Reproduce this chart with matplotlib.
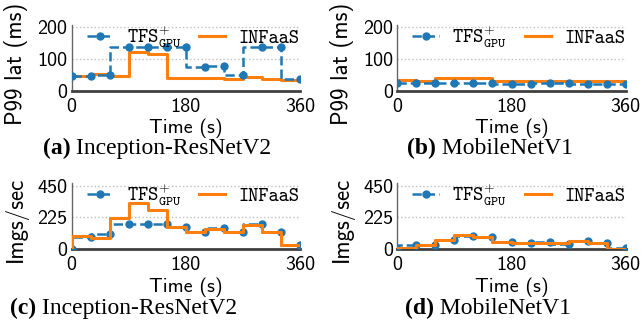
import matplotlib
matplotlib.use("Agg")
import matplotlib.pyplot as plt

plt.rcParams["mathtext.fontset"] = "cm"
plt.rcParams["axes.unicode_minus"] = False

# time points (s)
t = [0, 30, 60, 90, 120, 150, 180, 210, 240, 270, 300, 330, 360]

# P99 latency (ms)
lat_tfs_irv2 = [47, 47, 50, 138, 138, 138, 138, 74, 80, 50, 138, 138, 38]
lat_inf_irv2 = [48, 48, 54, 47, 123, 115, 41, 40, 40, 38, 44, 39, 36]
lat_tfs_mnv1 = [26, 25, 24, 26, 26, 25, 23, 23, 24, 24, 23, 23, 22]
lat_inf_mnv1 = [35, 35, 32, 40, 41, 42, 32, 31, 32, 30, 32, 30, 31]

# throughput (imgs/sec)
thr_tfs_irv2 = [0, 90, 108, 176, 176, 176, 155, 120, 148, 122, 178, 125, 30]
thr_inf_irv2 = [0, 95, 82, 222, 325, 278, 160, 120, 143, 120, 174, 120, 28]
thr_tfs_mnv1 = [5, 30, 28, 66, 95, 85, 52, 44, 50, 38, 62, 42, 12]
thr_inf_mnv1 = [12, 12, 33, 63, 98, 88, 54, 45, 42, 42, 59, 45, 5]

captions = [("(a)", " Inception-ResNetV2"), ("(b)", " MobileNetV1"),
            ("(c)", " Inception-ResNetV2"), ("(d)", " MobileNetV1")]

blue = "#1f77b4"
orange = "#ff7f0e"
sans = "cmss10"
fs = 14.5

fig = plt.figure(figsize=(6.44, 3.21), dpi=100)

panels = [
    ([0.1113, 0.7165, 0.3545, 0.2055], lat_tfs_irv2, lat_inf_irv2, "P99 lat (ms)", [0, 100, 200], 207, (0.066, 0.538), 0.41),
    ([0.617, 0.7165, 0.3546, 0.2055], lat_tfs_mnv1, lat_inf_mnv1, "P99 lat (ms)", [0, 100, 200], 207, (0.632, 0.538), 0.41),
    ([0.1113, 0.2234, 0.3545, 0.2056], thr_tfs_irv2, thr_inf_irv2, "Imgs/sec", [0, 225, 450], 467, (0.0155, 0.04), 0.45),
    ([0.617, 0.2234, 0.3546, 0.2056], thr_tfs_mnv1, thr_inf_mnv1, "Imgs/sec", [0, 225, 450], 467, (0.629, 0.04), 0.45),
]

for i, (pos, tfs, inf, ylab, yt, ytop, cap, ly) in enumerate(panels):
    ax = fig.add_axes(pos)
    ax.plot(t, tfs, drawstyle="steps-pre", color=blue, ls="--", lw=1.8,
            marker="o", ms=5, label=r"$\mathtt{TFS}^{+}_{\mathtt{GPU}}$", zorder=3)
    ax.plot(t, inf, drawstyle="steps-pre", color=orange, lw=2.2,
            label="INFaaS", zorder=2 if i < 2 else 4)
    ax.set_xlim(0, 360)
    ax.set_ylim(0, ytop)
    ax.set_xticks([0, 180, 360])
    ax.set_yticks(yt)
    ax.set_xticklabels(["0", "180", "360"], fontfamily=sans, fontsize=fs)
    ax.set_yticklabels([str(v) for v in yt], fontfamily=sans, fontsize=fs)
    ax.tick_params(axis="both", length=0)
    ax.tick_params(axis="x", pad=5)
    ax.tick_params(axis="y", pad=3)
    ax.grid(axis="y", ls=":", color="0.75", lw=1)
    ax.set_axisbelow(True)
    for s in ["top", "right"]:
        ax.spines[s].set_visible(False)
    ax.spines["left"].set_color("0.4")
    ax.spines["left"].set_linewidth(1)
    ax.spines["bottom"].set_color("0.25")
    ax.spines["bottom"].set_linewidth(2)
    ax.set_xlabel("Time (s)", fontfamily=sans, fontsize=fs, labelpad=2)
    ax.set_ylabel(ylab, fontfamily=sans, fontsize=16.5)
    ax.yaxis.set_label_coords(-0.19, ly)
    ax.legend(loc="upper right", bbox_to_anchor=(1.0, 1.02), ncol=2, frameon=False,
              prop={"family": "cmtt10", "size": 14}, handlelength=1.35, numpoints=1,
              handletextpad=0.7, columnspacing=0.9, borderpad=0, borderaxespad=0)

    t1 = fig.text(cap[0], cap[1], captions[i][0], fontfamily="Liberation Serif",
                  fontweight="bold", fontsize=17, ha="left", va="center")
    ax.annotate(captions[i][1], xy=(1, 0), xycoords=t1, va="bottom", ha="left",
                fontfamily="Liberation Serif", fontsize=17)

fig.savefig("out.png", dpi=100)
